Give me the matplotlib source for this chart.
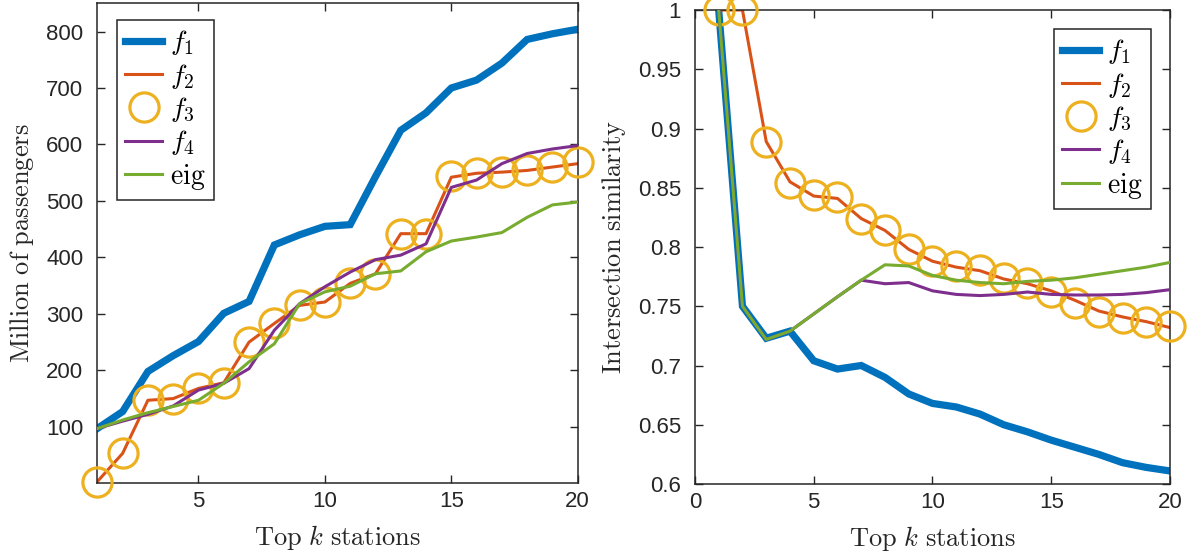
import matplotlib
matplotlib.use("Agg")
import matplotlib.pyplot as plt
import numpy as np

# ---------------- data ----------------
k = list(range(1, 21))

# Left panel: million of passengers
pass_f1 = [97, 127, 198, 226, 251, 301, 322, 422, 440, 455, 458, 543, 625, 656, 700, 714, 744, 786, 796, 804]
pass_f2 = [3, 53, 147, 150, 168, 178, 250, 283, 315, 321, 354, 371, 442, 442, 542, 549, 551, 554, 560, 566]
pass_f3 = [3, 53, 147, 150, 168, 178, 250, 283, 315, 321, 354, 371, 442, 442, 544, 549, 552, 554, 560, 569]
pass_f4 = [97, 110, 122, 137, 165, 177, 203, 271, 318, 348, 374, 396, 404, 424, 524, 537, 566, 584, 592, 598]
pass_eig = [97, 112, 125, 136, 147, 177, 215, 247, 318, 339, 349, 371, 376, 410, 429, 436, 444, 471, 493, 498]

# Right panel: intersection similarity
sim_f1 = [1.0, 0.750, 0.723, 0.729, 0.704, 0.697, 0.700, 0.690, 0.676, 0.668, 0.665, 0.659, 0.650, 0.644, 0.637, 0.631, 0.625, 0.618, 0.614, 0.611]
sim_f2 = [1.0, 1.0, 0.889, 0.855, 0.843, 0.841, 0.824, 0.814, 0.798, 0.788, 0.783, 0.780, 0.773, 0.769, 0.763, 0.755, 0.746, 0.741, 0.737, 0.732]
sim_f3 = [1.0, 1.0, 0.889, 0.854, 0.844, 0.842, 0.824, 0.814, 0.798, 0.788, 0.784, 0.781, 0.774, 0.770, 0.762, 0.753, 0.745, 0.740, 0.737, 0.733]
sim_f4 = [1.0, 0.750, 0.722, 0.729, 0.7435, 0.758, 0.772, 0.769, 0.770, 0.763, 0.760, 0.759, 0.760, 0.762, 0.760, 0.7595, 0.7595, 0.760, 0.7615, 0.764]
sim_eig = [1.0, 0.750, 0.722, 0.729, 0.7435, 0.758, 0.772, 0.785, 0.784, 0.776, 0.772, 0.770, 0.769, 0.771, 0.772, 0.774, 0.777, 0.780, 0.783, 0.787]

left_yticks = [100, 200, 300, 400, 500, 600, 700, 800]
left_xticks = [5, 10, 15, 20]
right_yticks = [0.6, 0.65, 0.7, 0.75, 0.8, 0.85, 0.9, 0.95, 1.0]
right_yticklabels = ['0.6', '0.65', '0.7', '0.75', '0.8', '0.85', '0.9', '0.95', '1']
right_xticks = [0, 5, 10, 15, 20]

labels = [r'$f_1$', r'$f_2$', r'$f_3$', r'$f_4$', r'$\mathrm{eig}$']
xlabel = r'$\mathrm{Top}\ k\ \mathrm{stations}$'
ylabel_left = r'$\mathrm{Million\ of\ passengers}$'
ylabel_right = r'$\mathrm{Intersection\ similarity}$'

# ---------------- style ----------------
plt.rcParams['font.family'] = ['Liberation Sans', 'DejaVu Sans']
plt.rcParams['mathtext.fontset'] = 'cm'

C1, C2, C3, C4, C5 = '#0072BD', '#D95319', '#EDB120', '#7E2F8E', '#77AC30'
AXC = '#262626'

fig = plt.figure(figsize=(11.9, 5.56), dpi=100)
axL = fig.add_axes([0.0818, 0.1308, 0.4037, 0.8633])
axR = fig.add_axes([0.584, 0.1295, 0.3992, 0.8525])


def draw(ax, s1, s2, s3, s4, s5):
    ax.plot(k, s1, color=C1, lw=5.2, label=labels[0], solid_joinstyle='miter')
    ax.plot(k, s2, color=C2, lw=2.2, label=labels[1])
    ax.plot(k, s3, ls='none', marker='o', ms=21, mfc='none', mec=C3, mew=2.3,
            label=labels[2], clip_on=False, zorder=3)
    ax.plot(k, s4, color=C4, lw=2.2, label=labels[3], zorder=4)
    ax.plot(k, s5, color=C5, lw=2.2, label=labels[4], zorder=4)


draw(axL, pass_f1, pass_f2, pass_f3, pass_f4, pass_eig)
draw(axR, sim_f1, sim_f2, sim_f3, sim_f4, sim_eig)

axL.set_xlim(1, 20)
axL.set_ylim(0, 850)
axL.set_xticks(left_xticks)
axL.set_yticks(left_yticks)

axR.set_xlim(0, 20)
axR.set_ylim(0.6, 1.0)
axR.set_xticks(right_xticks)
axR.set_yticks(right_yticks)
axR.set_yticklabels(right_yticklabels)

for ax in (axL, axR):
    for sp in ax.spines.values():
        sp.set_color(AXC)
        sp.set_linewidth(1.1)
    ax.tick_params(direction='in', top=True, right=True, length=6, width=1.0,
                   colors=AXC, labelsize=16)
    ax.tick_params(axis='x', pad=5.5)
    ax.tick_params(axis='y', pad=10)
    ax.set_xlabel(xlabel, fontsize=19, color=AXC, labelpad=8)

axL.set_ylabel(ylabel_left, fontsize=19, color=AXC, labelpad=7)
axR.set_ylabel(ylabel_right, fontsize=19, color=AXC, labelpad=7)

legkw = dict(fontsize=20, frameon=True, fancybox=False, edgecolor=AXC,
             handlelength=1.35, handletextpad=0.28, labelspacing=0.16,
             borderpad=0.3, borderaxespad=0.0)
lgL = axL.legend(loc='upper left', bbox_to_anchor=(0.04, 0.965), **legkw)
lgR = axR.legend(loc='upper right', bbox_to_anchor=(0.96, 0.96), **legkw)
for lg in (lgL, lgR):
    lg.get_frame().set_linewidth(1.1)
    lg.get_frame().set_alpha(1)

fig.savefig('out.png', dpi=100)
